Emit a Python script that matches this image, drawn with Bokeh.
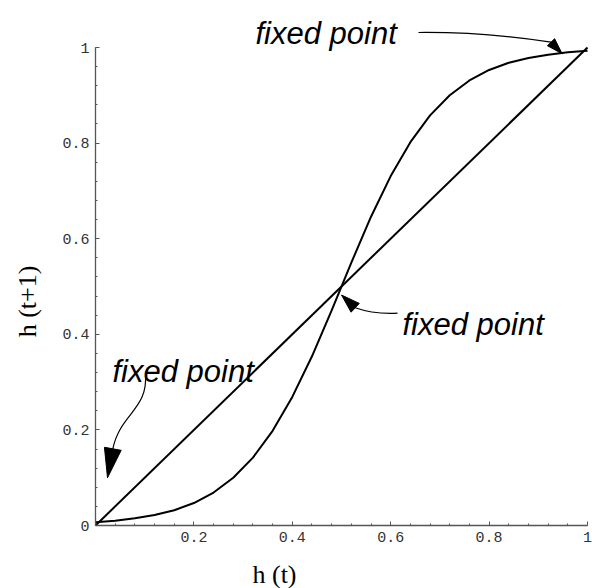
from bokeh.plotting import figure
from bokeh.models import Range1d, FixedTicker, Label
from bokeh.embed import file_html
from bokeh.resources import INLINE
import math

# Iterated map h(t) -> h(t+1), sampled every 0.04
h_t = [0.00, 0.04, 0.08, 0.12, 0.16, 0.20, 0.24, 0.28, 0.32, 0.36, 0.40, 0.44, 0.48,
       0.52, 0.56, 0.60, 0.64, 0.68, 0.72, 0.76, 0.80, 0.84, 0.88, 0.92, 0.96, 1.00]
h_next = [0.007, 0.010, 0.015, 0.022, 0.032, 0.047, 0.069, 0.100, 0.142, 0.198, 0.269,
          0.354, 0.450, 0.550, 0.646, 0.731, 0.802, 0.858, 0.900, 0.931, 0.953, 0.968,
          0.978, 0.985, 0.990, 0.993]

# Identity line h(t+1) = h(t)
diag_x = [0.0, 1.0]
diag_y = [0.0, 1.0]

x_ticks = [0.2, 0.4, 0.6, 0.8, 1.0]
y_ticks = [0.0, 0.2, 0.4, 0.6, 0.8, 1.0]
minor = [i * 0.04 for i in range(26)]

W, H = 592, 588
X0, Y0 = 95, 525               # canvas position of the origin
SX, SY = 492.0, 478.0          # pixels per unit

p = figure(width=W, height=H, output_backend="svg", toolbar_location=None,
           x_range=Range1d(-X0 / SX, (W - X0) / SX),
           y_range=Range1d(-(H - Y0) / SY, Y0 / SY),
           min_border_left=0, min_border_right=0, min_border_top=0,
           min_border_bottom=0)
p.outline_line_color = None
p.grid.visible = False
p.background_fill_color = "white"
p.border_fill_color = "white"


def at(px, py):
    """Canvas pixel -> data coordinates."""
    return (px - X0) / SX, (Y0 - py) / SY


for ax, ticks in ((p.xaxis[0], x_ticks), (p.yaxis[0], y_ticks)):
    ax.fixed_location = 0
    ax.ticker = FixedTicker(ticks=ticks, minor_ticks=minor)
    ax.bounds = (0, 1)
    ax.axis_line_color = "#555555"
    ax.axis_line_width = 1.3
    ax.major_tick_line_color = "#555555"
    ax.minor_tick_line_color = "#555555"
    ax.major_tick_in = 4
    ax.major_tick_out = 0
    ax.minor_tick_in = 2
    ax.minor_tick_out = 0
    ax.major_label_text_font = "Liberation Mono"
    ax.major_label_text_font_size = "15px"
    ax.major_label_text_color = "#333333"
    ax.major_label_standoff = 6
p.xaxis[0].major_label_overrides = {1.0: "1"}
p.yaxis[0].major_label_overrides = {0.0: "0", 1.0: "1"}

# curves
p.line(h_t, h_next, line_color="black", line_width=2)
p.line(diag_x, diag_y, line_color="black", line_width=2)


def arrow(start, c0, c1, end, tip, width):
    x0, y0 = at(*start)
    a0, b0 = at(*c0)
    a1, b1 = at(*c1)
    x1, y1 = at(*end)
    p.bezier(x0=[x0], y0=[y0], x1=[x1], y1=[y1], cx0=[a0], cy0=[b0],
             cx1=[a1], cy1=[b1], line_color="black", line_width=1.2)
    dx, dy = tip[0] - end[0], tip[1] - end[1]
    n = math.hypot(dx, dy)
    nx, ny = -dy / n * width / 2, dx / n * width / 2
    pts = [tip, (end[0] + nx, end[1] + ny), (end[0] - nx, end[1] - ny)]
    xs, ys = zip(*[at(*q) for q in pts])
    p.patch(list(xs), list(ys), fill_color="black", line_color="black", line_width=1)


arrow((418, 32), (470, 31.5), (520, 37), (550.5, 41.7), (561.7, 53.3), 10)
arrow((397, 312.7), (380, 313.5), (365, 311), (354.7, 307.3), (341, 294.5), 12)
arrow((145, 372), (148, 410), (120, 412), (112.3, 448.3), (107, 477.3), 17)

# annotation texts
for (px, py) in [(255, 33), (402, 324), (112, 370.5)]:
    x, y = at(px, py)
    p.add_layout(Label(x=x, y=y, text="fixed point", text_font="Liberation Sans",
                       text_font_style="italic", text_font_size="31px",
                       text_color="black", text_align="left",
                       text_baseline="alphabetic"))

# axis titles
x, y = at(274, 574)
p.add_layout(Label(x=x, y=y, text="h (t)", text_font="Liberation Serif",
                   text_font_size="26px", text_color="black",
                   text_align="center", text_baseline="middle"))
x, y = at(26.5, 301)
p.add_layout(Label(x=x, y=y, text="h (t+1)", text_font="Liberation Serif",
                   text_font_size="26px", text_color="black", angle=math.pi / 2,
                   text_align="center", text_baseline="middle"))

open("out.html", "w").write(file_html(p, INLINE))
